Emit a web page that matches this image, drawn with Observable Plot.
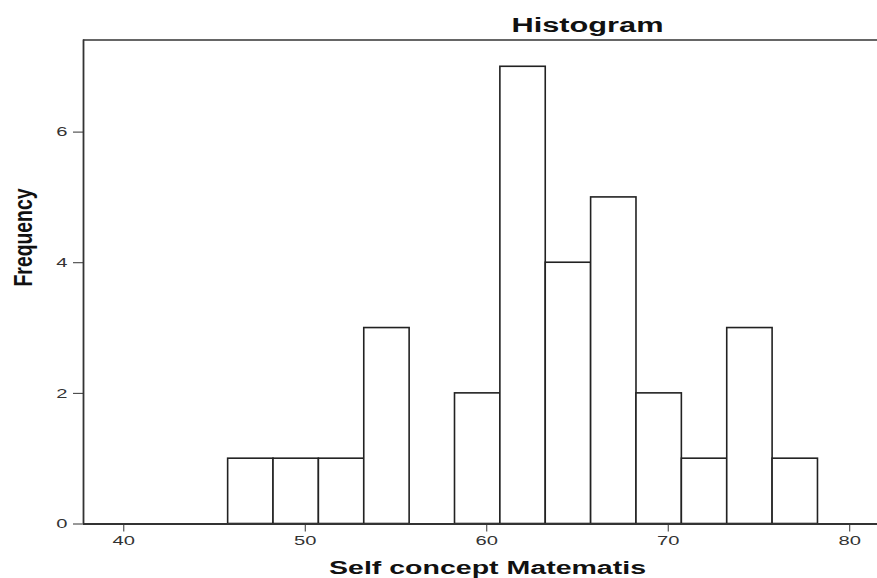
<!DOCTYPE html>
<html><head><meta charset="utf-8">
<script src="https://cdn.jsdelivr.net/npm/d3@7"></script>
<script src="https://cdn.jsdelivr.net/npm/@observablehq/plot@0.6"></script>
<style>html,body{margin:0;padding:0;background:#fff} svg{display:block}</style>
</head><body><div id="chart"></div>
<script>
// Data
const binStart = [45.75, 48.25, 50.75, 53.25, 55.75, 58.25, 60.75, 63.25, 65.75, 68.25, 70.75, 73.25, 75.75];
const binEnd   = [48.25, 50.75, 53.25, 55.75, 58.25, 60.75, 63.25, 65.75, 68.25, 70.75, 73.25, 75.75, 78.25];
const counts   = [1, 1, 1, 3, 0, 2, 7, 4, 5, 2, 1, 3, 1];
const xTicks = [40, 50, 60, 70, 80];
const yTicks = [0, 2, 4, 6];
const xDomain = [37.78, 81.53];
const yDomain = [0, 7.41];
const titleText = "Histogram";
const xLabelText = "Self concept Matematis";
const yLabelText = "Frequency";

const bins = binStart.map((s, i) => ({x1: s, x2: binEnd[i], count: counts[i]})).filter(d => d.count > 0);

const chart = Plot.plot({
  width: 877, height: 578,
  marginLeft: 83, marginRight: 0, marginTop: 39.5, marginBottom: 54.5,
  style: {fontFamily: "'Liberation Sans', Arial, sans-serif", fontSize: "13px", background: "#fff", color: "#333"},
  x: {domain: xDomain, ticks: xTicks, tickSize: 8, tickPadding: 4, label: null, tickFormat: d => String(d)},
  y: {domain: yDomain, ticks: yTicks, tickSize: 10, tickPadding: 6, label: null, tickFormat: d => String(d)},
  marks: [
    Plot.rect(bins, {x1: "x1", x2: "x2", y1: d => 0, y2: "count", fill: "white", stroke: "#222", strokeWidth: 1.6}),
    Plot.ruleY([yDomain[1]], {stroke: "#666", strokeWidth: 2}),
    Plot.ruleY([0], {stroke: "#333", strokeWidth: 1.8}),
    Plot.ruleX([xDomain[0]], {stroke: "#333", strokeWidth: 1.8}),
    Plot.text([titleText], {frameAnchor: "top", dx: 107, dy: -7.8, lineAnchor: "bottom", fontSize: 19.5, fontWeight: "bold", fill: "#111"}),
    Plot.text([xLabelText], {frameAnchor: "bottom", dx: 7, dy: 49.5, lineAnchor: "bottom", fontSize: 17.5, fontWeight: "bold", fill: "#111"}),
    Plot.text([yLabelText], {frameAnchor: "left", dx: -52, dy: 4.5, rotate: -90, lineAnchor: "bottom", fontSize: 25, fontWeight: "bold", fill: "#111"})
  ]
});
document.getElementById("chart").appendChild(chart);

// Stretch texts horizontally to match the reference's wide lettering
function fit(t, len) {
  t.setAttribute("textLength", len);
  t.setAttribute("lengthAdjust", "spacingAndGlyphs");
}
for (const t of chart.querySelectorAll("text")) {
  const s = t.textContent;
  if (s === titleText) fit(t, 152);
  else if (s === xLabelText) fit(t, 317);
  else if (s === yLabelText) fit(t, 98);
  else {
    const w = t.getComputedTextLength();
    if (w > 0) fit(t, w * 1.55);
  }
}
</script>
</body></html>
